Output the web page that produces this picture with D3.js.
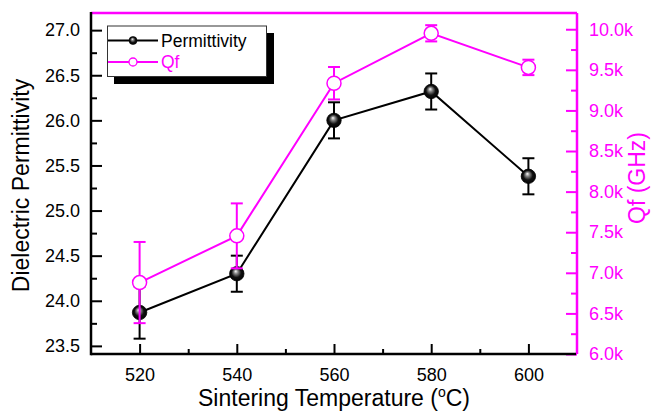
<!DOCTYPE html>
<html><head><meta charset="utf-8">
<script src="https://cdn.jsdelivr.net/npm/d3@7"></script>
<style>body{margin:0;background:#fff}svg{display:block}text{font-family:"Liberation Sans",Arial,sans-serif}</style>
</head><body><svg id="c" width="652" height="411"></svg>
<script>
const temps = [520, 540, 560, 580, 600];
const permittivity = [23.87, 24.30, 26.00, 26.32, 25.38];
const permErr = [0.29, 0.20, 0.20, 0.20, 0.20];
const qf = [6880, 7455, 9335, 9950, 9530];
const qfErr = [500, 400, 200, 100, 95];
const leftTicks = [23.5, 24.0, 24.5, 25.0, 25.5, 26.0, 26.5, 27.0];
const rightTicks = [6000, 6500, 7000, 7500, 8000, 8500, 9000, 9500, 10000];
const xTicks = [520, 540, 560, 580, 600];
const seriesNames = ["Permittivity", "Qf"];

const MAG = "#ff00ff";
const svg = d3.select("#c");
const L = 91, R = 577, T = 13, B = 354;
const x = d3.scaleLinear().domain([510, 610]).range([L, R]);
const yL = d3.scaleLinear().domain([23.41, 27.19]).range([B, T]);
const yR = d3.scaleLinear().domain([6000, 10200]).range([B, T]);

const defs = svg.append("defs");
const g = defs.append("radialGradient").attr("id", "sph").attr("cx", "0.5").attr("cy", "0.5").attr("r", "0.55").attr("fx", "0.42").attr("fy", "0.32");
g.append("stop").attr("offset", "0").attr("stop-color", "#ffffff");
g.append("stop").attr("offset", "0.25").attr("stop-color", "#8a8a8a");
g.append("stop").attr("offset", "0.6").attr("stop-color", "#111");
g.append("stop").attr("offset", "1").attr("stop-color", "#000");

// axes
const ax = svg.append("g").attr("transform", `translate(0,${B})`)
  .call(d3.axisBottom(x).tickValues(xTicks).tickSize(-10).tickPadding(14).tickFormat(d3.format("d")));
ax.select(".domain").remove();
const axm = svg.append("g").attr("transform", `translate(0,${B})`)
  .call(d3.axisBottom(x).tickValues([530, 550, 570, 590]).tickSize(-5).tickFormat(""));
axm.select(".domain").remove();

const ayl = svg.append("g").attr("transform", `translate(${L},0)`)
  .call(d3.axisLeft(yL).tickValues(leftTicks).tickSize(-11).tickPadding(11).tickFormat(d3.format(".1f")));
ayl.select(".domain").remove();
const aylm = svg.append("g").attr("transform", `translate(${L},0)`)
  .call(d3.axisLeft(yL).tickValues(leftTicks.slice(0, -1).map(v => v + 0.25)).tickSize(-6).tickFormat(""));
aylm.select(".domain").remove();

const ayr = svg.append("g").attr("transform", `translate(${R},0)`)
  .call(d3.axisRight(yR).tickValues(rightTicks).tickSize(-11).tickPadding(12).tickFormat(d => (d / 1000).toFixed(1) + "k"));
ayr.select(".domain").remove();
const ayrm = svg.append("g").attr("transform", `translate(${R},0)`)
  .call(d3.axisRight(yR).tickValues(rightTicks.slice(0, -1).map(v => v + 250)).tickSize(-6).tickFormat(""));
ayrm.select(".domain").remove();

[ax, axm, ayl, aylm].forEach(a => { a.selectAll("line").attr("stroke", "#000").attr("stroke-width", 2); a.selectAll("text").attr("fill", "#000").style("font-size", "18px"); });
[ayr, ayrm].forEach(a => { a.selectAll("line").attr("stroke", MAG).attr("stroke-width", 2); a.selectAll("text").attr("fill", MAG).style("font-size", "18px"); });

// frame
svg.append("line").attr("x1", L).attr("x2", R).attr("y1", T).attr("y2", T).attr("stroke", MAG).attr("stroke-width", 2.5);
svg.append("line").attr("x1", R).attr("x2", R).attr("y1", T).attr("y2", B).attr("stroke", MAG).attr("stroke-width", 2.5);
svg.append("line").attr("x1", L).attr("x2", L).attr("y1", T - 1).attr("y2", B + 1.2).attr("stroke", "#000").attr("stroke-width", 2.5);
svg.append("line").attr("x1", L).attr("x2", R - 1).attr("y1", B).attr("y2", B).attr("stroke", "#000").attr("stroke-width", 2.5);

function series(vals, errs, ys, color, marker) {
  const gg = svg.append("g");
  const d = temps.map((t, i) => ({ t, v: vals[i], e: errs[i] }));
  gg.append("path").datum(d).attr("fill", "none").attr("stroke", color).attr("stroke-width", 2)
    .attr("d", d3.line().x(p => x(p.t)).y(p => ys(p.v)));
  const eb = gg.selectAll(".eb").data(d).join("g").attr("stroke", color).attr("stroke-width", 2);
  eb.append("line").attr("x1", p => x(p.t)).attr("x2", p => x(p.t)).attr("y1", p => ys(p.v - p.e)).attr("y2", p => ys(p.v + p.e));
  eb.append("line").attr("x1", p => x(p.t) - 6).attr("x2", p => x(p.t) + 6).attr("y1", p => ys(p.v - p.e)).attr("y2", p => ys(p.v - p.e));
  eb.append("line").attr("x1", p => x(p.t) - 6).attr("x2", p => x(p.t) + 6).attr("y1", p => ys(p.v + p.e)).attr("y2", p => ys(p.v + p.e));
  gg.selectAll("circle").data(d).join("circle").attr("cx", p => x(p.t)).attr("cy", p => ys(p.v))
    .attr("r", 7.2).each(function () { marker(d3.select(this)); });
}
series(permittivity, permErr, yL, "#000", c => c.attr("fill", "url(#sph)").attr("stroke", "#000").attr("stroke-width", 0.8));
series(qf, qfErr, yR, MAG, c => c.attr("fill", "#fff").attr("stroke", MAG).attr("stroke-width", 1.5).attr("r", 7));

// legend
const lg = svg.append("g");
lg.append("rect").attr("x", 114).attr("y", 33).attr("width", 160).attr("height", 51).attr("fill", "#000");
lg.append("rect").attr("x", 107.5).attr("y", 26).attr("width", 159).attr("height", 50.5).attr("fill", "#fff").attr("stroke", "#333").attr("stroke-width", 1);
const leg = [{ n: seriesNames[0], c: "#000", y: 40.5 }, { n: seriesNames[1], c: MAG, y: 62 }];
leg.forEach((e, i) => {
  lg.append("line").attr("x1", 108).attr("x2", 158).attr("y1", e.y).attr("y2", e.y).attr("stroke", e.c).attr("stroke-width", 2);
  const c = lg.append("circle").attr("cx", 133).attr("cy", e.y).attr("r", 4);
  if (i === 0) c.attr("fill", "url(#sph)").attr("stroke", "#000").attr("stroke-width", 0.6);
  else c.attr("fill", "#fff").attr("stroke", MAG).attr("stroke-width", 1.3);
  lg.append("text").attr("x", 161).attr("y", e.y + 6.2).attr("fill", e.c).style("font-size", "17.5px").text(e.n);
});

// titles
svg.append("text").attr("transform", "translate(28.5,185.5) rotate(-90)").attr("text-anchor", "middle")
  .style("font-size", "23px").attr("fill", "#000").text("Dielectric Permittivity");
svg.append("text").attr("transform", "translate(645,178) rotate(-90)").attr("text-anchor", "middle")
  .style("font-size", "23px").attr("fill", MAG).text("Qf (GHz)");
const xt = svg.append("text").attr("x", 334).attr("y", 406).attr("text-anchor", "middle").style("font-size", "23px").attr("fill", "#000");
xt.append("tspan").text("Sintering Temperature (");
xt.append("tspan").attr("dy", -9).style("font-size", "14px").text("o");
xt.append("tspan").attr("dy", 9).text("C)");
</script></body></html>
